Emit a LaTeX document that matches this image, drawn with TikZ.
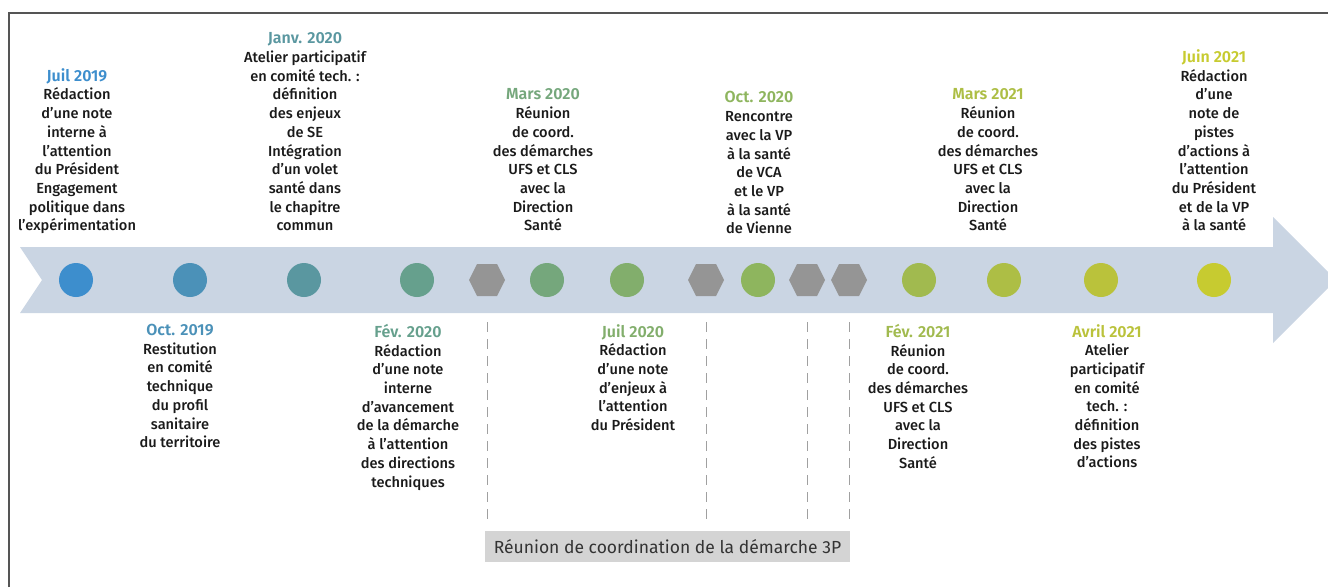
\documentclass[tikz,border=0pt]{standalone}
\usepackage{fontspec}
\setmainfont{Fira Sans}[UprightFont={* Medium}, BoldFont={* SemiBold}]
\newfontfamily\regfont{Fira Sans}
\usetikzlibrary{shapes.geometric}
\definecolor{band}{HTML}{CAD5E3}
\definecolor{hexgray}{HTML}{959595}
\definecolor{sepgray}{HTML}{A0A0A0}
\definecolor{boxgray}{HTML}{D4D4D4}
\definecolor{boxtext}{HTML}{333333}
\definecolor{framec}{HTML}{555555}
\definecolor{txt}{HTML}{1A1A1A}
\definecolor{c1}{HTML}{3D8ECD}
\definecolor{c2}{HTML}{4B91B8}
\definecolor{c3}{HTML}{5A97A0}
\definecolor{c4}{HTML}{66A08D}
\definecolor{c5}{HTML}{75A77C}
\definecolor{c6}{HTML}{82AE6C}
\definecolor{c7}{HTML}{8EB55E}
\definecolor{c8}{HTML}{A1BA4F}
\definecolor{c9}{HTML}{ADBE45}
\definecolor{c10}{HTML}{BAC23B}
\definecolor{c11}{HTML}{C7CB30}
\newcommand\evdate[2]{\textcolor{#1}{\bfseries\fontsize{16}{18.7}\selectfont #2}}
\begin{document}
\begin{tikzpicture}[x=1pt,y=-1pt,
  evtext/.style={align=center, inner sep=0pt, text=txt, font=\fontsize{14.6}{18.7}\selectfont},
  evup/.style={evtext, anchor=south, text depth=0pt},
  evdown/.style={evtext, anchor=north},
  dot/.style={circle, minimum size=34pt, inner sep=0pt},
  hexa/.style={fill=hexgray},
  sepline/.style={draw=sepgray, line width=1pt, dash pattern=on 10pt off 7pt}]
\useasboundingbox (0,0) rectangle (1328,587);
\clip (0,0) rectangle (1328,587);
% frame
\draw[framec, line width=1.2pt] (9,587) -- (9,13) -- (1328,13);
% band arrow
\fill[band] (20,247) -- (1273,247) -- (1273,217) -- (1336,280) -- (1273,343) -- (1273,313) -- (20,313) -- (42,280) -- cycle;
% dots
\node[dot, fill=c1] (d1) at (76,280) {};
\node[dot, fill=c2] (d2) at (190,280) {};
\node[dot, fill=c3] (d3) at (304,280) {};
\node[dot, fill=c4] (d4) at (417,280) {};
\node[dot, fill=c5] (d5) at (547,280) {};
\node[dot, fill=c6] (d6) at (627,280) {};
\node[dot, fill=c7] (d7) at (758,280) {};
\node[dot, fill=c8] (d8) at (919,280) {};
\node[dot, fill=c9] (d9) at (1004,280) {};
\node[dot, fill=c10] (d10) at (1101,280) {};
\node[dot, fill=c11] (d11) at (1214,280) {};
% hexagons
\foreach \hx in {487,706,807,849}{
  \fill[hexa] (\hx,280) ++(-18,0) -- ++(8,-16) -- ++(20,0) -- ++(8,16) -- ++(-8,16) -- ++(-20,0) -- cycle;
}
% separators
\foreach \sx in {487,706,807,849}{
  \draw[sepline] (\sx,322) -- (\sx,522);
}
% box
\node[fill=boxgray, minimum width=365pt, minimum height=31pt, inner sep=0pt, text=boxtext,
      font=\regfont\fontsize{17.5}{20}\selectfont] (box) at (667.5,546.5) {Réunion de coordination de la démarche 3P};
% upper texts
\node[evup] (t1) at (77,231) {\evdate{c1}{Juil 2019}\\Rédaction\\d’une note\\interne à\\l’attention\\du Président\\Engagement\\politique dans\\l’expérimentation};
\node[evup] (t3) at (305,231) {\evdate{c3}{Janv. 2020}\\Atelier participatif\\en comité tech. :\\définition\\des enjeux\\de SE\\Intégration\\d’un volet\\santé dans\\le chapitre\\commun};
\node[evup] (t5) at (543,231) {\evdate{c5}{Mars 2020}\\Réunion\\de coord.\\des démarches\\UFS et CLS\\avec la\\Direction\\Santé};
\node[evup] (t7) at (759,234) {\evdate{c7}{Oct. 2020}\\Rencontre\\avec la VP\\à la santé\\de VCA\\et le VP\\à la santé\\de Vienne};
\node[evup] (t9) at (988,231) {\evdate{c9}{Mars 2021}\\Réunion\\de coord.\\des démarches\\UFS et CLS\\avec la\\Direction\\Santé};
\node[evup] (t11) at (1214,231) {\evdate{c11}{Juin 2021}\\Rédaction\\d’une\\note de\\pistes\\d’actions à\\l’attention\\du Président\\et de la VP\\à la santé};
% lower texts
\node[evdown] (t2) at (180,324) {\evdate{c2}{Oct. 2019}\\Restitution\\en comité\\technique\\du profil\\sanitaire\\du territoire};
\node[evdown] (t4) at (408,324) {\evdate{c4}{Fév. 2020}\\Rédaction\\d’une note\\interne\\d’avancement\\de la démarche\\à l’attention\\des directions\\techniques};
\node[evdown] (t6) at (633,324) {\evdate{c6}{Juil 2020}\\Rédaction\\d’une note\\d’enjeux à\\l’attention\\du Président};
\node[evdown] (t8) at (918,324) {\evdate{c8}{Fév. 2021}\\Réunion\\de coord.\\des démarches\\UFS et CLS\\avec la\\Direction\\Santé};
\node[evdown] (t10) at (1107,324) {\evdate{c10}{Avril 2021}\\Atelier\\participatif\\en comité\\tech. :\\définition\\des pistes\\d’actions};
\end{tikzpicture}
\end{document}
